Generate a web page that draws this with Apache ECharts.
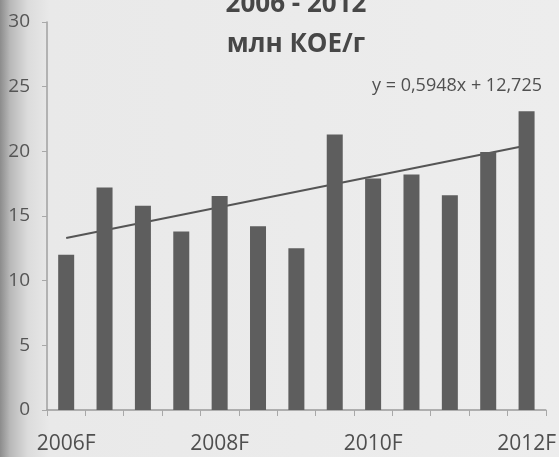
<!DOCTYPE html>
<html>
<head>
<meta charset="utf-8">
<script src="https://cdn.jsdelivr.net/npm/echarts@6/dist/echarts.min.js"></script>
<style>
  html, body { margin: 0; padding: 0; }
  body {
    width: 559px; height: 457px; overflow: hidden;
    background: linear-gradient(to right, #8c8c8c 0px, #b8b8b8 10px, #dcdcdc 28px, #e9e9e9 50px, #ededed 100%);
  }
  #chart { width: 559px; height: 457px; }
</style>
</head>
<body>
<div id="chart"></div>
<script>
const categories = ['2006F','2006.5F','2007F','2007.5F','2008F','2008.5F','2009F','2009.5F','2010F','2010.5F','2011F','2011.5F','2012F'];
const values = [12.0, 17.2, 15.8, 13.8, 16.55, 14.2, 12.5, 21.3, 17.9, 18.2, 16.6, 19.95, 23.1];
const trendStart = 13.3;
const trendEnd = 20.45;
const yTicks = [0, 5, 10, 15, 20, 25, 30];
const titleLines = ['2006 - 2012', 'млн КОЕ/г'];
const equationText = 'y = 0,5948x + 12,725';

const trendData = categories.map((c, i) => i === 0 ? trendStart : (i === categories.length - 1 ? trendEnd : null));

const chart = echarts.init(document.getElementById('chart'), null, { renderer: 'canvas' });
chart.setOption({
  backgroundColor: 'transparent',
  animation: false,
  title: [
    {
      text: titleLines.join('\n'),
      left: 291, top: -20, textAlign: 'center',
      textStyle: { fontFamily: 'Open Sans', fontWeight: 'bold', fontSize: 26, color: '#474747', lineHeight: 40 }
    },
    {
      text: equationText,
      left: 367, top: 72,
      textStyle: { fontFamily: 'Open Sans', fontWeight: 'normal', fontSize: 18, color: '#505050' }
    }
  ],
  grid: { left: 47, right: 13, top: 22, bottom: 47 },
  xAxis: {
    type: 'category',
    data: categories,
    boundaryGap: true,
    axisLine: { show: true, lineStyle: { color: '#9a9a9a', width: 1.5 } },
    axisTick: { show: true, interval: 0, length: 6, lineStyle: { color: '#a8a8a8' } },
    axisLabel: {
      interval: 3, margin: 24,
      fontFamily: 'Open Sans', fontSize: 21, color: '#4f4f4f'
    },
    splitLine: { show: false }
  },
  yAxis: {
    type: 'value',
    min: yTicks[0], max: yTicks[yTicks.length - 1], interval: 5,
    axisLine: { show: true, lineStyle: { color: '#a0a0a0', width: 1.5 } },
    axisTick: { show: true, length: 5, lineStyle: { color: '#a8a8a8' } },
    axisLabel: { margin: 17, fontFamily: 'Open Sans', fontSize: 19, color: '#555555' },
    splitLine: { show: false }
  },
  series: [
    {
      type: 'line',
      data: trendData,
      connectNulls: true,
      showSymbol: false,
      symbol: 'none',
      z: 1,
      lineStyle: { color: '#555555', width: 2 }
    },
    {
      type: 'bar',
      data: values,
      barWidth: 16,
      z: 3,
      itemStyle: { color: '#5e5e5e' }
    }
  ]
});
</script>
</body>
</html>
